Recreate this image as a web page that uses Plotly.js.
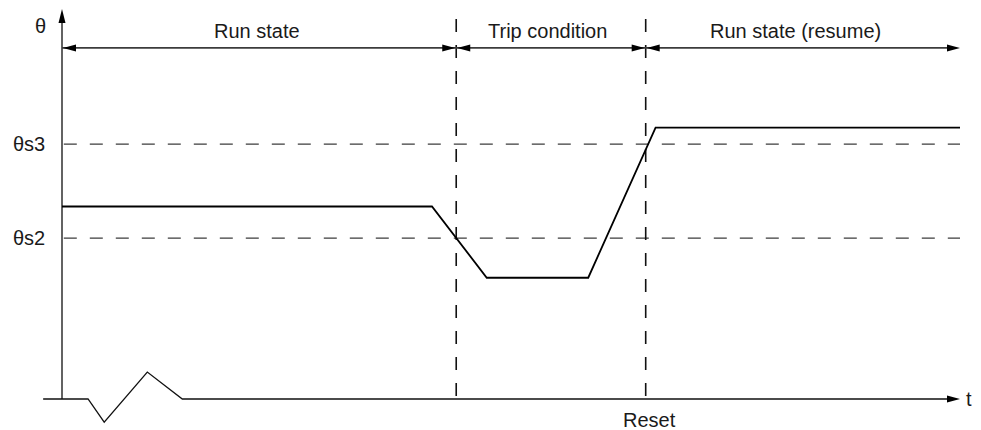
<!DOCTYPE html>
<html>
<head>
<meta charset="utf-8">
<script src="https://cdn.plot.ly/plotly-3.0.1.min.js"></script>
<style>html,body{margin:0;padding:0;background:#fff;}#chart{width:981px;height:430px;}</style>
</head>
<body>
<div id="chart"></div>
<script>
// ---- data (t: time units, theta: temperature units) ----
const signalT = [0, 41.2, 47.3, 58.6, 66.1, 100];
const signalTheta = [50, 50, 31.5, 31.5, 70.5, 70.5];
const pulseT = [-2.1, 2.9, 4.7, 9.5, 13.4, 98.6];
const pulseTheta = [0, 0, -6, 7, 0, 0];
const thresholdLabels = ['θs2', 'θs3'];
const thresholdValues = [41.8, 66.2];
const eventLabels = ['', 'Reset'];
const eventTimes = [43.9, 65.0];
const stateLabels = ['Run state', 'Trip condition', 'Run state (resume)'];
const tStart = 0;
const tEnd = 100;
const thetaAxisTop = 101.3;
const dashTop = 98.7;
const dimensionLevel = 91.2;
const axisLabels = ['θ', 't'];

// ---- build ----
const gray = '#3c3c3c';
const ink = '#111';
const traces = [];

// y axis line
traces.push({x: [tStart, tStart], y: [0, thetaAxisTop - 3], mode: 'lines',
  line: {color: gray, width: 1.6}, hoverinfo: 'skip'});
// t axis with pulse
traces.push({x: pulseT, y: pulseTheta, mode: 'lines',
  line: {color: ink, width: 1.3}, hoverinfo: 'skip'});
// threshold dashed lines
thresholdValues.forEach(v => traces.push({x: [tStart + 0.2, tEnd], y: [v, v], mode: 'lines',
  line: {color: gray, width: 1.3, dash: '13px,13px'}, hoverinfo: 'skip'}));
// event dashed lines
eventTimes.forEach(te => traces.push({x: [te, te], y: [dashTop, 0], mode: 'lines',
  line: {color: ink, width: 1.6, dash: '13px,13px'}, hoverinfo: 'skip'}));
// dimension line
traces.push({x: [tStart, tEnd - 1], y: [dimensionLevel, dimensionLevel], mode: 'lines',
  line: {color: gray, width: 1.6}, hoverinfo: 'skip'});
// signal
traces.push({x: signalT, y: signalTheta, mode: 'lines',
  line: {color: '#000', width: 1.8}, hoverinfo: 'skip'});

// arrowheads (pixel-sized shapes anchored at data points)
const R = 'M-1,0L-14,3.5L-14,-3.5Z';
const L = 'M1,0L14,3.5L14,-3.5Z';
const U = 'M0,0L-3.5,-14L3.5,-14Z';
function head(xa, ya, path) {
  return {type: 'path', xref: 'x', yref: 'y', xsizemode: 'pixel', ysizemode: 'pixel',
    xanchor: xa, yanchor: ya, path: path, fillcolor: '#000', line: {width: 0}};
}
const shapes = [];
shapes.push(head(tStart, thetaAxisTop, U));
shapes.push(head(tEnd, 0, 'M0,0L-13,3.5L-13,-3.5Z'));
shapes.push(head(tStart, dimensionLevel, L));
eventTimes.forEach(te => { shapes.push(head(te, dimensionLevel, R)); shapes.push(head(te, dimensionLevel, L)); });
shapes.push(head(tEnd, dimensionLevel, 'M0,0L-13,3.5L-13,-3.5Z'));

// text
const font = {family: '"Liberation Sans", Arial, sans-serif', size: 20, color: '#1a1a1a'};
const stateShift = [-2, -3, -7];
const ann = [];
const bounds = [tStart].concat(eventTimes).concat([tEnd]);
stateLabels.forEach((s, i) => ann.push({x: (bounds[i] + bounds[i + 1]) / 2, y: 95.6, xref: 'x', yref: 'y',
  text: s, showarrow: false, font: font, xanchor: 'center', yanchor: 'middle', xshift: stateShift[i]}));
thresholdLabels.forEach((s, i) => ann.push({x: -1.9, y: thresholdValues[i], xref: 'x', yref: 'y',
  text: s, showarrow: false, font: font, xanchor: 'right', yanchor: 'middle', xshift: 2}));
eventLabels.forEach((s, i) => { if (s) ann.push({x: eventTimes[i], y: -5.4, xref: 'x', yref: 'y',
  text: s, showarrow: false, font: font, xanchor: 'center', yanchor: 'middle', xshift: 4}); });
ann.push({x: -2.45, y: 96.9, xref: 'x', yref: 'y', text: axisLabels[0], showarrow: false, font: font,
  xanchor: 'center', yanchor: 'middle'});
ann.push({x: tEnd, y: 0, xref: 'x', yref: 'y', text: axisLabels[1], showarrow: false, font: font,
  xanchor: 'left', yanchor: 'middle', xshift: 4});

const pxPerT = 8.98, x0px = 62, pxPerTheta = 3.85, y0px = 399;
const layout = {
  width: 981, height: 430, autosize: false,
  margin: {l: 0, r: 0, t: 0, b: 0, pad: 0},
  paper_bgcolor: '#fff', plot_bgcolor: '#fff',
  showlegend: false,
  xaxis: {visible: false, range: [-x0px / pxPerT, (981 - x0px) / pxPerT], fixedrange: true},
  yaxis: {visible: false, range: [-(430 - y0px) / pxPerTheta, y0px / pxPerTheta], fixedrange: true},
  shapes: shapes,
  annotations: ann
};
Plotly.newPlot('chart', traces, layout, {displayModeBar: false, staticPlot: true});
</script>
</body>
</html>
